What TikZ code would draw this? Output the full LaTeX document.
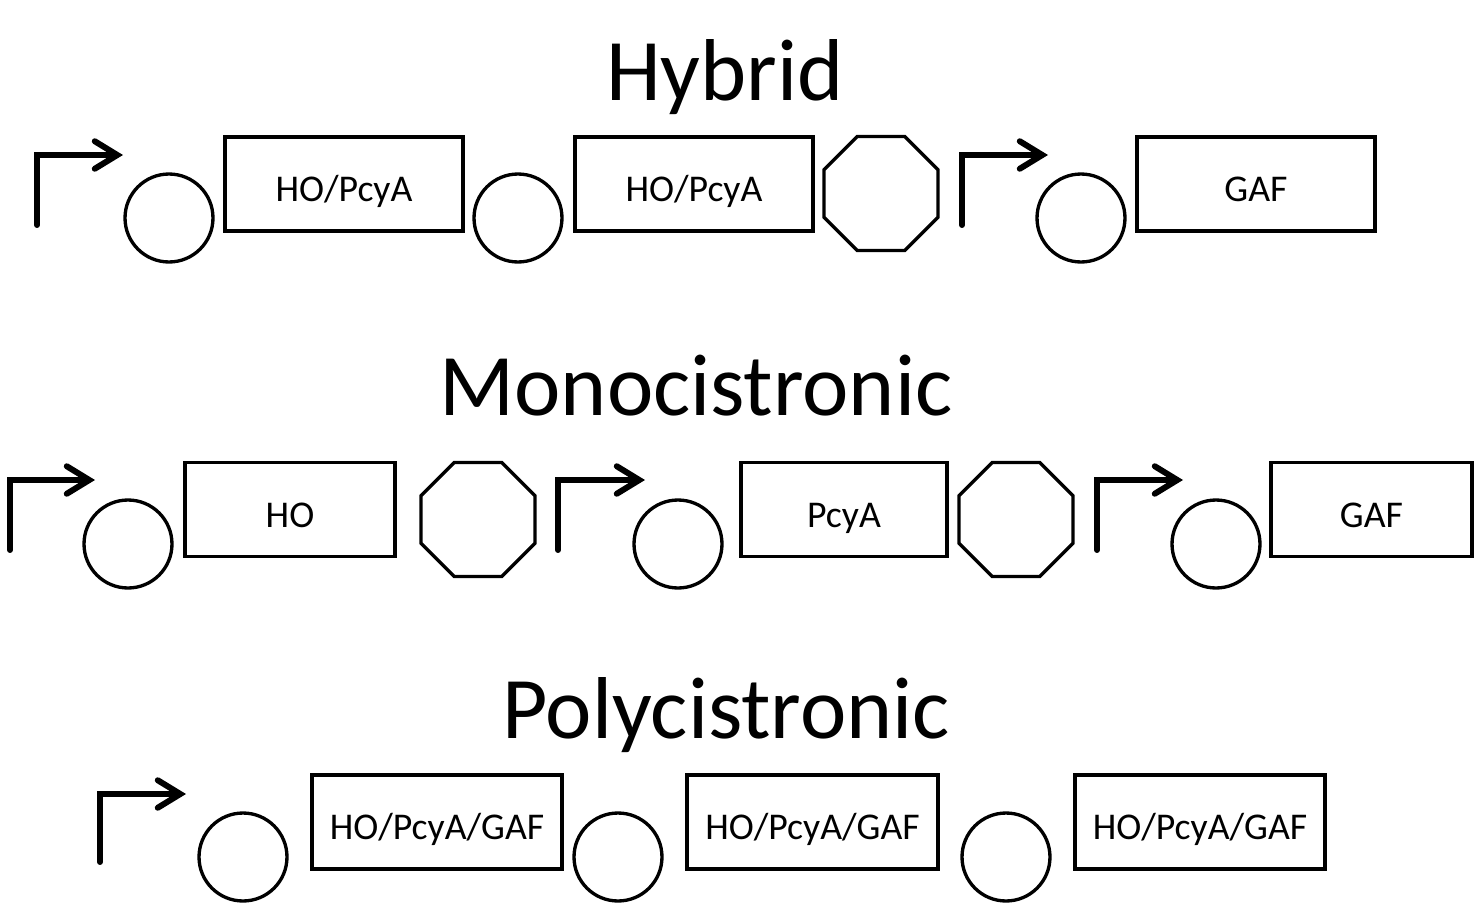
\documentclass[tikz,border=0pt]{standalone}
\usepackage{fontspec}
\setmainfont{Carlito}
\usetikzlibrary{shapes.geometric,arrows.meta}

\tikzset{
  gene/.style={draw, line width=1.9pt, minimum height=1.88cm, inner sep=0pt,
    text height=0.7cm, text depth=0pt, font=\fontsize{21.5}{24}\selectfont},
  rbs/.style={draw, circle, line width=1.9pt, minimum size=1.76cm, inner sep=0pt},
  term/.style={draw, regular polygon, regular polygon sides=8, line width=1.9pt,
    minimum size=2.47cm, inner sep=0pt},
  prom/.style={line width=3.4pt, line cap=round,
    -{Straight Barb[length=0.45cm,width=0.55cm,line cap=round]}},
  heading/.style={anchor=base, inner sep=0pt, font=\fontsize{50}{56}\selectfont}
}

\begin{document}
\begin{tikzpicture}[x=0.02cm,y=-0.02cm]
\useasboundingbox (0,0) rectangle (1475,903);

% hybrid
\node[heading] (hybrid) at (725,100) {Hybrid};
\coordinate (hp1) at (37,225);
\draw[prom] (hp1) |- ++(86,-70);
\node[rbs] (hr1) at (169,218) {};
\node[gene, minimum width=4.76cm] (hg1) at (344,184) {HO/PcyA};
\node[rbs] (hr2) at (518,218) {};
\node[gene, minimum width=4.76cm] (hg2) at (694,184) {HO/PcyA};
\node[term] (ht1) at (881,193.5) {};
\coordinate (hp2) at (962,225);
\draw[prom] (hp2) |- ++(86,-70);
\node[rbs] (hr3) at (1081,218) {};
\node[gene, minimum width=4.76cm] (hg3) at (1256,184) {GAF};

% monocistronic
\node[heading] (mono) at (696,415) {Monocistronic};
\coordinate (mp1) at (10,550);
\draw[prom] (mp1) |- ++(85,-70);
\node[rbs] (mr1) at (128,544) {};
\node[gene, minimum width=4.2cm] (mg1) at (290,509.5) {HO};
\node[term] (mt1) at (478,519.5) {};
\coordinate (mp2) at (558,550);
\draw[prom] (mp2) |- ++(87,-70);
\node[rbs] (mr2) at (678,544) {};
\node[gene, minimum width=4.12cm] (mg2) at (844,509.5) {PcyA};
\node[term] (mt2) at (1016,519.5) {};
\coordinate (mp3) at (1097,550);
\draw[prom] (mp3) |- ++(86,-70);
\node[rbs] (mr3) at (1216,544) {};
\node[gene, minimum width=4.02cm] (mg3) at (1371.5,509.5) {GAF};

% polycistronic
\node[heading] (poly) at (726,738) {Polycistronic};
\coordinate (pp1) at (100,862);
\draw[prom] (pp1) |- ++(86,-68);
\node[rbs] (pr1) at (243,857) {};
\node[gene, minimum width=5cm] (pg1) at (437,822) {HO/PcyA/GAF};
\node[rbs] (pr2) at (618,857) {};
\node[gene, minimum width=5.02cm] (pg2) at (812.5,822) {HO/PcyA/GAF};
\node[rbs] (pr3) at (1006,857) {};
\node[gene, minimum width=5cm] (pg3) at (1200,822) {HO/PcyA/GAF};
\end{tikzpicture}
\end{document}
